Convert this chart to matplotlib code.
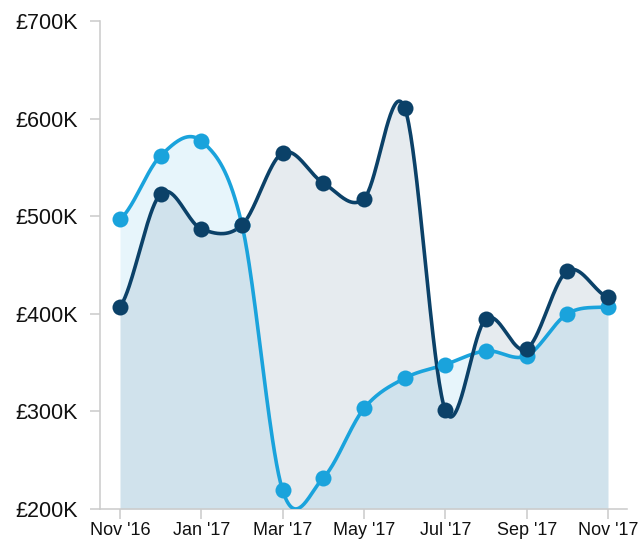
import numpy as np
import matplotlib
matplotlib.use("Agg")
import matplotlib.pyplot as plt

months = ["Nov '16", "Dec '16", "Jan '17", "Feb '17", "Mar '17", "Apr '17", "May '17",
          "Jun '17", "Jul '17", "Aug '17", "Sep '17", "Oct '17", "Nov '17"]
dark_values = [407, 523, 487, 491, 565, 534, 518, 611, 301, 395, 364, 444, 417]   # £K
light_values = [497, 562, 577, 491, 219, 232, 303, 334, 348, 362, 357, 400, 407]  # £K
y_ticks = [200, 300, 400, 500, 600, 700]
y_tick_labels = ["£200K", "£300K", "£400K", "£500K", "£600K", "£700K"]

DARK = "#0b4168"
LIGHT = "#1aa3dc"
AXIS = "#cccccc"

plt.rcParams['font.family'] = ['Liberation Sans', 'DejaVu Sans']


def catmull_rom(y, n=40):
    y = np.asarray(y, dtype=float)
    x = np.arange(len(y), dtype=float)
    p = np.concatenate([[y[0]], y, [y[-1]]])
    xs, ys = [], []
    for i in range(len(y) - 1):
        p0, p1, p2, p3 = p[i], p[i + 1], p[i + 2], p[i + 3]
        m1 = (p2 - p0) / 2.0
        m2 = (p3 - p1) / 2.0
        t = np.linspace(0, 1, n, endpoint=(i == len(y) - 2))
        h00 = 2 * t**3 - 3 * t**2 + 1
        h10 = t**3 - 2 * t**2 + t
        h01 = -2 * t**3 + 3 * t**2
        h11 = t**3 - t**2
        xs.append(x[i] + t)
        ys.append(h00 * p1 + h10 * m1 + h01 * p2 + h11 * m2)
    return np.concatenate(xs), np.concatenate(ys)


W, H = 642, 542
PX = 72 / 100  # points per pixel at dpi 100
fig = plt.figure(figsize=(W / 100, H / 100), dpi=100)
ax = fig.add_axes([100 / W, (H - 509) / H, 527 / W, 488 / H])

x = np.arange(len(months))
for vals, col in [(light_values, LIGHT), (dark_values, DARK)]:
    xs, ys = catmull_rom(vals)
    ax.fill_between(xs, ys, 200, color=col, alpha=0.1, linewidth=0)
for vals, col in [(light_values, LIGHT), (dark_values, DARK)]:
    xs, ys = catmull_rom(vals)
    ax.plot(xs, ys, color=col, linewidth=3.6 * PX, solid_capstyle='round', zorder=3)
    ax.plot(x, vals, 'o', color=col, markersize=16 * PX, markeredgewidth=0, zorder=4)

ax.set_xlim(-20 / 40.67, 12 + 19 / 40.67)
ax.set_ylim(200, 700)

ax.set_yticks(y_ticks)
ax.set_yticklabels(y_tick_labels)
ax.set_xticks(x[::2])
ax.set_xticklabels(months[::2])

for s in ['top', 'right']:
    ax.spines[s].set_visible(False)
for s in ['left', 'bottom']:
    ax.spines[s].set_color(AXIS)
    ax.spines[s].set_linewidth(1.6 * PX)

ax.tick_params(axis='y', length=10 * PX, width=1.6 * PX, color=AXIS, labelsize=15.5,
               pad=12 * PX, labelcolor='#111111')
ax.tick_params(axis='x', length=10 * PX, width=1.6 * PX, color=AXIS, labelsize=13,
               pad=3 * PX, labelcolor='#111111')

fig.savefig("out.png", dpi=100)
